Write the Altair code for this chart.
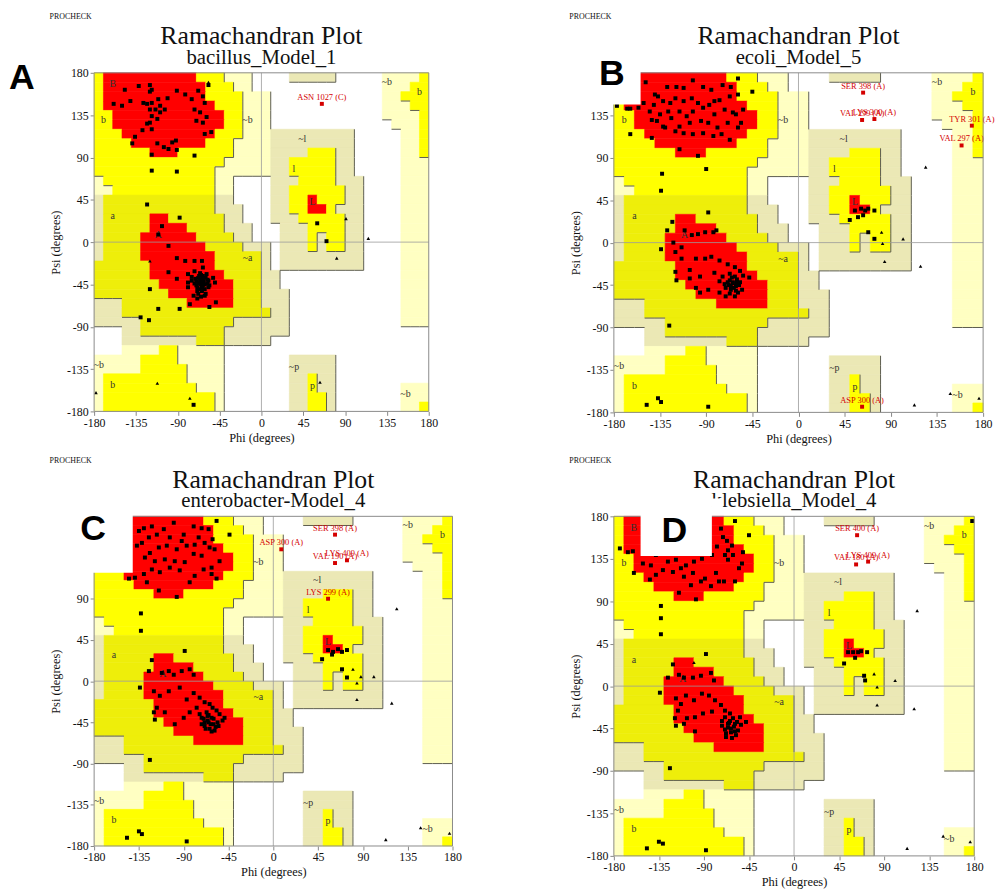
import altair as alt
import pandas as pd

TICKS = [-180, -135, -90, -45, 0, 45, 90, 135, 180]
CODES = ["R", "Y", "y", "G", "g", "W"]
COLORS = ["#FF0000", "#FFFF00", "#EEEE0A", "#FFFFC2", "#EBE8B5", "#FFFFFF"]
RANK = {"R": 3, "Y": 2, "y": 2, "G": 1, "g": 1, "W": 0}
SERIF = "Liberation Serif"

# PROCHECK region map, 10-degree cells, row 0 = psi 170..180, column 0 = phi -180..-170
REGION_RUNS = [
    "Y1 R10 Y3 G3 W4 g5 W5 G4 Y1",
    "Y1 R11 Y3 G2 W14 G3 Y2",
    "Y1 R11 Y4 G3 W12 G2 Y3",
    "Y1 R12 Y3 G3 W12 G3 Y2",
    "Y2 R12 Y2 G3 W12 G4 Y1",
    "Y2 R12 Y2 G3 W13 G3 Y1",
    "Y3 R10 Y3 G3 g9 W5 G2 Y1",
    "Y4 R8 Y3 G4 g9 W5 G2 Y1",
    "Y6 R3 Y6 G4 g4 Y3 g2 W5 G2 Y1",
    "Y14 G5 g2 Y5 g2 W5 G3",
    "Y13 G6 g2 Y5 g2 W5 G3",
    "G1 Y12 G2 W4 g3 Y4 g3 W4 G3",
    "G2 Y11 G2 W4 g2 Y6 g2 W4 G3",
    "g1 y12 g2 W4 g2 Y2 R1 Y3 g2 W4 G3",
    "g1 y12 g3 W3 g2 Y2 R2 Y1 g3 W4 G3",
    "g1 y5 R2 y6 g2 W3 g3 Y5 g2 W4 G3",
    "g1 y5 R4 y4 g3 W3 g3 Y4 g2 W4 G3",
    "g1 y4 R6 y4 g2 W3 g3 Y1 g1 Y2 g2 W4 G3",
    "g1 y4 R7 y4 g3 W1 g3 Y1 g1 Y2 g2 W4 G3",
    "g1 y4 R8 y5 g1 W1 g9 W4 G3",
    "y6 R7 y5 g1 W1 g9 W4 G3",
    "y6 R8 y4 g2 W13 G3",
    "y7 R8 y3 g2 W13 G3",
    "y8 R7 y3 g3 W12 G3",
    "g3 y7 R5 y3 g3 W12 G3",
    "g3 y16 g2 W12 G3",
    "g5 y10 g6 W12 G3",
    "W3 g2 y9 g7 W15",
    "W3 g8 y3 g5 W17",
    "W3 G4 Y2 G5 W22",
    "G5 Y4 G5 W7 g5 W10",
    "G5 Y5 G4 W7 g5 W10",
    "G1 Y9 G4 W7 g2 Y1 g2 W10",
    "G1 Y10 G3 W7 g2 Y1 g2 W7 G3",
    "G1 Y12 G1 W7 g2 Y2 g1 W7 G3",
    "G1 Y12 G1 W7 g2 Y2 g1 W7 G2 Y1",
]

REGION_LABELS = [
    ("B", -160, 168), ("b", -170, 130), ("~b", -15, 130), ("a", -160, 28),
    ("A", -111, 8), ("~a", -15, -17), ("~l", 44, 110), ("l", 35, 78),
    ("L", 55, 43), ("~b", 135, 170), ("b", 170, 160), ("~b", -175, -131),
    ("b", -160, -152), ("~p", 35, -133), ("p", 55, -153), ("~b", 155, -162),
]

# ---------------- panel A: bacillus_Model_1 ----------------
A_SQUARES = [
    (-147, 162), (-132, 166), (-120, 167), (-118, 162), (-120, 160), (-57, 167), (-63, 155),
    (-61, 148), (-68, 161), (-82, 157), (-91, 161), (-101, 153), (-111, 152), (-114, 141),
    (-109, 138), (-120, 141), (-123, 147), (-127, 148), (-141, 150), (-150, 145), (-159, 147),
    (-118, 134), (-112, 131), (-120, 127), (-123, 126), (-118, 120), (-128, 119), (-136, 112),
    (-139, 105), (-112, 105), (-105, 101), (-100, 99), (-96, 106), (-92, 108), (-91, 98),
    (-118, 93), (-72, 92), (-118, 76), (-91, 75), (-63, 127), (-59, 133), (-70, 129),
    (-66, 138), (-72, 141), (-61, 115), (-54, 117), (-75, 152), (-104, 141), (-118, 148),
    (-109, 145),
    (-123, 40), (-107, 17), (-88, 26), (-111, 8), (-100, -4), (-91, -17), (-82, -20),
    (-79, -34), (-72, -20), (-64, -20), (-63, -27), (-68, -38), (-75, -41), (-69, -48),
    (-64, -52), (-61, -45), (-59, -34), (-57, -41), (-52, -38), (-50, -43), (-66, -43),
    (-72, -31), (-79, -43), (-73, -57), (-77, -66), (-61, -57), (-56, -69), (-49, -64),
    (-91, -39), (-100, -32), (-120, -50), (-111, -71), (-88, -71), (-130, -80), (-121, -83),
    (-68, -55), (-63, -46), (-71, -39), (-65, -35), (-75, -37), (-63, -39), (-57, -48),
    (-69, -52), (-79, -48), (-66, -40), (-62, -42), (-68, -44), (-60, -38), (-64, -48),
    (-67, -36), (-70, -46), (-58, -44), (-65, -45), (-61, -50), (-67, -50), (-70, -42),
    (-63, -36), (-58, -40), (-56, -46), (-66, -33), (-72, -44), (-60, -55), (-65, -58),
    (-69, -60),
    (60, 20), (70, 1), (-73, -173),
]
A_TRIANGLES = [(91, 25), (115, 4), (81, -17), (-178, -160), (-112, -150), (-77, -166),
               (-120, -20), (63, -149), (-57, 170)]
A_RESIDUES = [("ASN 1027 (C)", 65, 147)]

# ---------------- panel B: ecoli_Model_5 ----------------
B_SQUARES = [
    (-149, 170), (-140, 157), (-128, 165), (-119, 165), (-112, 164), (-103, 172), (-93, 165),
    (-85, 162), (-74, 167), (-66, 165), (-59, 174), (-45, 160), (-59, 157), (-67, 155),
    (-77, 151), (-82, 150), (-87, 146), (-93, 143), (-98, 148), (-104, 153), (-112, 150),
    (-120, 153), (-125, 148), (-132, 150), (-137, 155), (-141, 146), (-145, 139), (-151, 148),
    (-156, 143), (-164, 142), (-167, 142), (-177, 145), (-164, 115), (-143, 130), (-132, 123),
    (-124, 132), (-116, 139), (-109, 134), (-103, 139), (-95, 129), (-88, 127), (-79, 122),
    (-69, 127), (-61, 136), (-54, 141), (-56, 127), (-59, 122), (-67, 109), (-75, 115),
    (-83, 113), (-93, 116), (-103, 115), (-112, 116), (-120, 118), (-130, 122), (-138, 129),
    (-143, 111), (-116, 99), (-98, 92), (-90, 78), (-133, 73), (-134, 55), (-64, 138),
    (-72, 141), (-82, 136), (-106, 127), (-116, 123), (-127, 139), (-135, 136),
    (-88, 32), (-123, 22), (-128, 13), (-134, -7), (-111, 13), (-104, 8), (-98, 9), (-91, 11),
    (-83, 11), (-80, 13), (-122, 0), (-114, -5), (-120, -10), (-114, -17), (-120, -31),
    (-119, -40), (-106, -29), (-100, -17), (-91, -17), (-85, -15), (-77, -19), (-69, -23),
    (-62, -26), (-57, -30), (-54, -35), (-48, -37), (-74, -36), (-67, -40), (-64, -43),
    (-61, -46), (-66, -50), (-71, -48), (-77, -41), (-82, -32), (-96, -36), (-106, -38),
    (-100, -48), (-96, -53), (-88, -50), (-77, -53), (-71, -57), (-62, -57), (-59, -53),
    (-55, -50), (-67, -33), (-62, -36), (-64, -42), (-60, -42), (-68, -45), (-126, -88),
    (-66, -46), (-63, -48), (-60, -39), (-58, -45), (-69, -42), (-65, -37), (-72, -44),
    (-61, -51), (-67, -54), (-57, -42),
    (61, 36), (55, 34), (65, 34), (68, 36), (74, 34), (58, 27), (63, 29), (50, 24), (68, 11),
    (74, 4),
    (-148, -172), (-137, -165), (-134, -169), (-88, -174),
]
B_TRIANGLES = [(81, 11), (82, -1), (84, -20), (102, 4), (119, -25), (124, 80), (148, -160),
               (176, -165), (113, -172)]
B_RESIDUES = [("SER 398 (A)", 63, 159), ("VAL 299 (A)", 62, 130), ("LYS 300 (A)", 74, 131),
              ("TYR 301 (A)", 169, 124), ("VAL 297 (A)", 159, 103), ("ASP 300 (A)", 62, -174)]

# ---------------- panel C: enterobacter-Model_4 ----------------
C_SQUARES = [
    (-135, 164), (-130, 167), (-122, 169), (-110, 166), (-100, 173), (-90, 160), (-80, 169),
    (-72, 167), (-65, 166), (-57, 175), (-44, 160), (-61, 155), (-69, 151), (-79, 149),
    (-87, 148), (-97, 144), (-107, 148), (-115, 146), (-124, 140), (-132, 151), (-137, 148),
    (-129, 135), (-119, 131), (-109, 133), (-99, 131), (-89, 130), (-80, 139), (-72, 137),
    (-64, 146), (-59, 144), (-54, 131), (-62, 124), (-70, 122), (-79, 115), (-84, 108),
    (-94, 121), (-104, 124), (-114, 119), (-122, 122), (-130, 117), (-139, 113), (-145, 112),
    (-127, 108), (-115, 99), (-97, 92), (-57, 112), (-62, 117), (-133, 74), (-133, 55),
    (-75, 157), (-92, 153), (-104, 157), (-117, 160), (-125, 157),
    (-89, 33), (-122, 23), (-125, 11), (-134, -7), (-112, 9), (-105, 11), (-100, 7), (-92, 11),
    (-84, 13), (-80, 7), (-120, -11), (-114, -16), (-105, -11), (-94, -7), (-87, -20),
    (-80, -13), (-74, -18), (-69, -23), (-64, -25), (-61, -29), (-57, -32), (-54, -36),
    (-49, -40), (-67, -34), (-62, -40), (-65, -45), (-70, -41), (-74, -36), (-77, -29),
    (-84, -34), (-90, -40), (-99, -47), (-109, -34), (-117, -29), (-120, -34), (-119, -42),
    (-60, -47), (-55, -49), (-51, -43), (-69, -49), (-64, -52), (-59, -54), (-66, -38),
    (-72, -47), (-124, -86), (-66, -43), (-63, -47), (-60, -41), (-58, -50), (-69, -45),
    (-65, -37), (-72, -40), (-62, -55), (-68, -52), (-56, -45),
    (55, 34), (60, 32), (65, 35), (69, 32), (74, 34), (59, 29), (49, 24), (69, 13), (74, 4),
    (-147, -171), (-135, -164), (-132, -167), (-87, -175),
]
C_TRIANGLES = [(80, 13), (88, 5), (84, -2), (101, 5), (84, -20), (119, -24), (124, 79),
               (148, -160), (177, -166), (113, -173)]
C_RESIDUES = [("SER 398 (A)", 62, 160), ("ASP 300 (A)", 8, 144), ("LYS 409 (A)", 74, 132),
              ("VAL 190 (A)", 62, 129), ("LYS 299 (A)", 55, 90)]

# ---------------- panel D: klebsiella_Model_4 ----------------
D_SQUARES = [
    (-174, 146), (-166, 142), (-160, 120), (-73, 167), (-71, 158), (-67, 154), (-62, 149),
    (-66, 144), (-61, 139), (-69, 139), (-66, 134), (-59, 175), (-45, 160), (-77, 148),
    (-82, 139), (-88, 146), (-92, 135), (-100, 132), (-108, 128), (-113, 125), (-118, 134),
    (-126, 132), (-131, 123), (-138, 118), (-144, 113), (-151, 130), (-143, 128), (-121, 121),
    (-110, 116), (-101, 120), (-93, 111), (-83, 106), (-89, 114), (-103, 107), (-115, 99),
    (-98, 92), (-75, 111), (-70, 111), (-59, 111), (-52, 130), (-51, 142), (-55, 125),
    (-78, 120), (-133, 85), (-133, 72), (-133, 55), (-161, 143), (-148, 142), (-138, 139),
    (-88, 34), (-121, 23), (-126, 9), (-134, -7), (-115, 12), (-110, 9), (-101, 9), (-93, 11),
    (-83, 14), (-80, 6), (-118, -13), (-113, -19), (-116, -26), (-119, -34), (-108, -10),
    (-100, -15), (-92, -8), (-85, -10), (-79, -15), (-73, -20), (-69, -26), (-64, -29),
    (-61, -34), (-57, -38), (-53, -41), (-48, -38), (-66, -40), (-63, -45), (-68, -50),
    (-59, -48), (-72, -37), (-82, -27), (-91, -29), (-99, -33), (-107, -34), (-110, -40),
    (-99, -48), (-69, -33), (-59, -40), (-64, -37), (-54, -33), (-118, -42), (-124, -87),
    (-66, -44), (-63, -49), (-60, -43), (-58, -52), (-69, -46), (-65, -39), (-72, -42),
    (-62, -55), (-68, -54), (-56, -47),
    (54, 36), (59, 36), (64, 36), (67, 37), (73, 36), (61, 30), (50, 24), (70, 11), (71, 6),
    (178, 175), (-147, -172), (-135, -165), (-131, -167), (-88, -174),
]
D_TRIANGLES = [(80, 13), (83, -1), (101, 6), (83, -20), (120, -24), (123, 80), (149, -159),
               (176, -165), (113, -172), (-100, 25)]
D_RESIDUES = [("SER 400 (A)", 63, 160), ("VAL 180 (A)", 62, 129), ("LYS 409 (A)", 74, 132)]


def decode(runs):
    row = "".join(tok[0] * int(tok[1:]) for tok in runs.split())
    assert len(row) == 36, runs
    return row


GRID = [decode(r) for r in REGION_RUNS]


def region_table():
    recs = []
    for r, row in enumerate(GRID):
        top = 180 - 10 * r
        c = 0
        while c < 36:
            k = c
            while k + 1 < 36 and row[k + 1] == row[c]:
                k += 1
            recs.append({"phi0": -180 + 10 * c, "phi1": -170 + 10 * k,
                         "psi0": top - 10, "psi1": top, "code": row[c]})
            c = k + 1
    return pd.DataFrame(recs)


def boundary_table():
    segs = []
    for r in range(36):
        for c in range(36):
            a = RANK[GRID[r][c]]
            if a in (0, 3):
                continue
            if c < 35 and a > RANK[GRID[r][c + 1]]:
                x = -170 + 10 * c
                segs.append({"x1": x, "x2": x, "y1": 170 - 10 * r, "y2": 180 - 10 * r})
            if r < 35 and a > RANK[GRID[r + 1][c]]:
                y = 170 - 10 * r
                segs.append({"x1": -180 + 10 * c, "x2": -170 + 10 * c, "y1": y, "y2": y})
    return pd.DataFrame(segs)


REGION_DF = region_table()
BOUND_DF = boundary_table()
LABEL_DF = pd.DataFrame(REGION_LABELS, columns=["t", "phi", "psi"])

SC = alt.Scale(domain=[-180, 180], nice=False, zero=False)


def label_expr(hidden):
    if not hidden:
        return "datum.value + ''"
    cond = " || ".join(f"datum.value == {v}" for v in hidden)
    return f"({cond}) ? '' : datum.value + ''"


def text_layer(txt, x, y, size, font=SERIF, weight="normal", align="center", color="#111"):
    return alt.Chart(pd.DataFrame({"t": [txt]})).mark_text(
        font=font, fontSize=size, fontWeight=weight, align=align, baseline="middle", color=color
    ).encode(x=alt.value(x), y=alt.value(y), text="t:N")


def white_box(b):
    return alt.Chart(pd.DataFrame({"v": [0]})).mark_rect(fill="white").encode(
        x=alt.value(b[0]), x2=alt.value(b[2]), y=alt.value(b[1]), y2=alt.value(b[3]))


def panel(w, h, subtitle, squares, triangles, residues, letter, lx, ly, lalign, boxes=(), hidden_psi=()):
    ax = alt.Axis(values=TICKS, labelExpr=label_expr(()), grid=False, domain=False, labelFlush=False,
                  tickSize=4, tickColor="#888", labelPadding=2, titlePadding=3)
    ay = alt.Axis(values=TICKS, labelExpr=label_expr(hidden_psi), grid=False, domain=False,
                  labelFlush=False, tickSize=4, tickColor="#888", labelPadding=2, titlePadding=4)

    def X(f):
        return alt.X(f, scale=SC, title="Phi (degrees)", axis=ax)

    def Y(f):
        return alt.Y(f, scale=SC, title="Psi (degrees)", axis=ay)

    col_scale = alt.Scale(domain=CODES, range=COLORS)
    regions = alt.Chart(REGION_DF).mark_rect(strokeWidth=0.6).encode(
        x=X("phi0:Q"), x2="phi1:Q", y=Y("psi0:Q"), y2="psi1:Q",
        color=alt.Color("code:N", scale=col_scale, legend=None),
        stroke=alt.Stroke("code:N", scale=col_scale, legend=None),
    )
    bounds = alt.Chart(BOUND_DF).mark_rule(color="#5c5c4c", strokeWidth=1).encode(
        x=X("x1:Q"), x2="x2:Q", y=Y("y1:Q"), y2="y2:Q")
    zero = pd.DataFrame({"v": [0]})
    zv = alt.Chart(zero).mark_rule(color="#9a9a9a", strokeWidth=0.8).encode(x=X("v:Q"))
    zh = alt.Chart(zero).mark_rule(color="#9a9a9a", strokeWidth=0.8).encode(y=Y("v:Q"))
    labs = alt.Chart(LABEL_DF).mark_text(font=SERIF, fontSize=10, color="#333").encode(
        x=X("phi:Q"), y=Y("psi:Q"), text="t:N")
    sq = alt.Chart(pd.DataFrame(squares, columns=["phi", "psi"])).mark_point(
        shape="square", filled=True, size=16, color="black", opacity=1, strokeWidth=0
    ).encode(x=X("phi:Q"), y=Y("psi:Q"))
    tri = alt.Chart(pd.DataFrame(triangles, columns=["phi", "psi"])).mark_point(
        shape="triangle-up", filled=True, size=13, color="black", opacity=1, strokeWidth=0
    ).encode(x=X("phi:Q"), y=Y("psi:Q"))
    res_df = pd.DataFrame(residues, columns=["name", "phi", "psi"])
    rp = alt.Chart(res_df).mark_point(
        shape="square", filled=True, size=16, color="#D40000", opacity=1, strokeWidth=0
    ).encode(x=X("phi:Q"), y=Y("psi:Q"))
    rt = alt.Chart(res_df).mark_text(font=SERIF, fontSize=8.5, color="#D40000", dy=-7).encode(
        x=X("phi:Q"), y=Y("psi:Q"), text="name:N")
    frame = alt.Chart(zero).mark_rect(fillOpacity=0, stroke="#8a8a8a", strokeWidth=1).encode(
        x=alt.value(0), x2=alt.value(w), y=alt.value(0), y2=alt.value(h))
    layers = [regions, bounds, zv, zh, labs, sq, tri, rp, rt, frame]
    layers += [
        text_layer("PROCHECK", -45, -56, 8, align="left"),
        text_layer("Ramachandran Plot", w / 2, -37, 26),
        text_layer(subtitle, w / 2, -15, 21),
    ]
    layers += [white_box(b) for b in boxes]
    layers.append(text_layer(letter, lx, ly, 36, font="Liberation Sans", weight="bold",
                             align=lalign, color="black"))
    return alt.layer(*layers).properties(width=w, height=h)


pA = panel(338, 342, "bacillus_Model_1", A_SQUARES, A_TRIANGLES, A_RESIDUES, "A", -86, 5, "left")
pB = panel(373, 343, "ecoli_Model_5", B_SQUARES, B_TRIANGLES, B_RESIDUES, "B", -2, 1, "center",
           boxes=[(-23, -15, 27, 32)], hidden_psi=(180,))
pC = panel(362, 333, "enterobacter-Model_4", C_SQUARES, C_TRIANGLES, C_RESIDUES, "C", -1, 13, "center",
           boxes=[(-35, -8, 39, 57)], hidden_psi=(135, 180))
pD = panel(364, 343, "klebsiella_Model_4", D_SQUARES, D_TRIANGLES, D_RESIDUES, "D", 61, 15, "center",
           boxes=[(27, -18, 99, 40), (99, -18, 110, -6)])

chart = alt.concat(pA, pB, pC, pD, columns=2, spacing={"row": 105, "column": 163}, bounds="flush").properties(
    padding={"left": 1, "top": 1, "right": 0, "bottom": 0}, background="white"
).configure_view(stroke=None).configure_axis(
    labelFont=SERIF, titleFont=SERIF, labelFontSize=12, titleFontSize=12.5,
    titleFontWeight="normal", labelColor="#111", titleColor="#111"
)

chart.save("out.html", embed_options={"renderer": "svg", "actions": False})
